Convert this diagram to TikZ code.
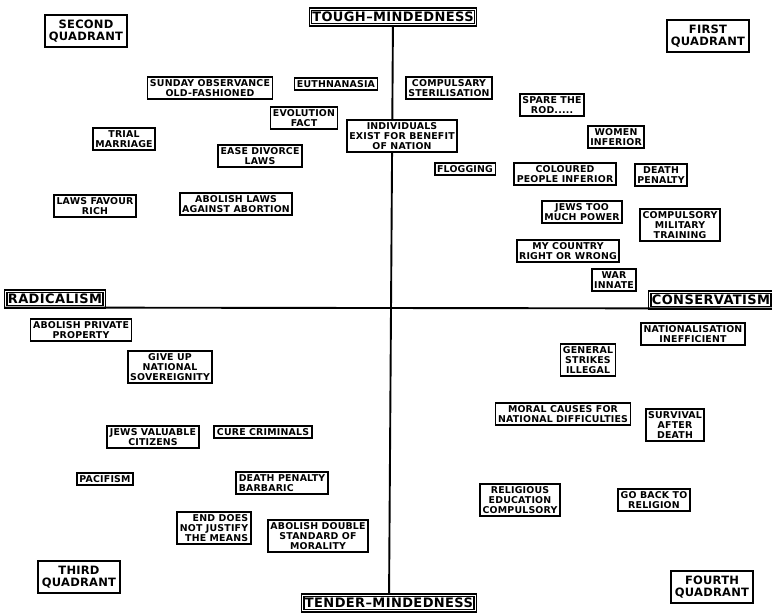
\documentclass[tikz,border=0pt]{standalone}
\usepackage{fontspec}
\setmainfont{DejaVu Sans}
\newfontfamily\boxfont[LetterSpace=2]{DejaVu Sans Bold}
\newfontfamily\polefont[LetterSpace=3]{DejaVu Sans Bold}
\usepackage{tikz}

\begin{document}
\begin{tikzpicture}[x=1pt,y=-1pt,
    item/.style={draw,fill=white,line width=1.9pt,inner xsep=2.5pt,inner ysep=2.6pt,align=center,
        font=\boxfont\fontsize{9.4}{9.6}\selectfont},
    quadrant/.style={draw,line width=2pt,inner xsep=3.5pt,inner ysep=4.5pt,align=center,
        font=\boxfont\fontsize{11.5}{12.5}\selectfont},
    pole/.style={draw,line width=1.2pt,double,double distance=1pt,inner xsep=2pt,inner ysep=3pt,
        font=\polefont\fontsize{13}{14}\selectfont},
    axis/.style={line width=1.9pt}
]
    \useasboundingbox (0,0) rectangle (772,613);

    % axes
    \node[pole] (tough) at (393,17) {TOUGH–MINDEDNESS};
    \node[pole] (tender) at (389,603) {TENDER–MINDEDNESS};
    \node[pole] (radical) at (55,299) {RADICALISM};
    \node[pole] (conserv) at (711,300) {CONSERVATISM};
    \draw[axis] (tough) -- (tender);
    \draw[axis] (radical.south west) -- (conserv.south east);

    \node[quadrant] (second) at (86,31) {SECOND\\QUADRANT};
    \node[quadrant] (first) at (708,36) {FIRST\\QUADRANT};
    \node[quadrant] (third) at (79,577) {THIRD\\QUADRANT};
    \node[quadrant] (fourth) at (712,587) {FOURTH\\QUADRANT};

    % tough, radical
    \node[item] (sunday) at (210,88) {SUNDAY OBSERVANCE\\OLD-FASHIONED};
    \node[item] (euth) at (336,84) {EUTHNANASIA};
    \node[item] (evol) at (304,118) {EVOLUTION\\FACT};
    \node[item] (trial) at (124,139) {TRIAL\\MARRIAGE};
    \node[item] (divorce) at (260,156) {EASE DIVORCE\\LAWS};
    \node[item] (lawsrich) at (95,206) {LAWS FAVOUR\\RICH};
    \node[item] (abort) at (236,204) {ABOLISH LAWS\\AGAINST ABORTION};

    % tough, conservative
    \node[item] (steril) at (449,88) {COMPULSARY\\STERILISATION};
    \node[item] (spare) at (552,105) {SPARE THE\\ROD.....};
    \node[item] (indiv) at (402,136) {INDIVIDUALS\\EXIST FOR BENEFIT\\OF NATION};
    \node[item] (women) at (616,137) {WOMEN\\INFERIOR};
    \node[item] (flog) at (465,169) {FLOGGING};
    \node[item] (coloured) at (565,174) {COLOURED\\PEOPLE INFERIOR};
    \node[item] (dpen) at (661,175) {DEATH\\PENALTY};
    \node[item] (jews) at (582,212) {JEWS TOO\\MUCH POWER};
    \node[item] (military) at (680,225) {COMPULSORY\\MILITARY\\TRAINING};
    \node[item] (country) at (568,251) {MY COUNTRY\\RIGHT OR WRONG};
    \node[item] (war) at (614,280) {WAR\\INNATE};

    % tender, radical
    \node[item] (private) at (81,330) {ABOLISH PRIVATE\\PROPERTY};
    \node[item] (sovereign) at (170,367) {GIVE UP\\NATIONAL\\SOVEREIGNITY};
    \node[item] (jewsval) at (153,437) {JEWS VALUABLE\\CITIZENS};
    \node[item] (cure) at (263,432) {CURE CRIMINALS};
    \node[item] (pacifism) at (105,479) {PACIFISM};
    \node[item,align=left] (barbaric) at (282,483) {DEATH PENALTY\\BARBARIC};
    \node[item,align=right] (ends) at (214,528) {END DOES\\NOT JUSTIFY\\THE MEANS};
    \node[item] (double) at (318,536) {ABOLISH DOUBLE\\STANDARD OF\\MORALITY};

    % tender, conservative
    \node[item] (nationalis) at (693,334) {NATIONALISATION\\INEFFICIENT};
    \node[item] (strikes) at (588,360) {GENERAL\\STRIKES\\ILLEGAL};
    \node[item] (moral) at (563,414) {MORAL CAUSES FOR\\NATIONAL DIFFICULTIES};
    \node[item] (survival) at (675,425) {SURVIVAL\\AFTER\\DEATH};
    \node[item] (religed) at (520,500) {RELIGIOUS\\EDUCATION\\COMPULSORY};
    \node[item] (goback) at (654,500) {GO BACK TO\\RELIGION};

\end{tikzpicture}
\end{document}
